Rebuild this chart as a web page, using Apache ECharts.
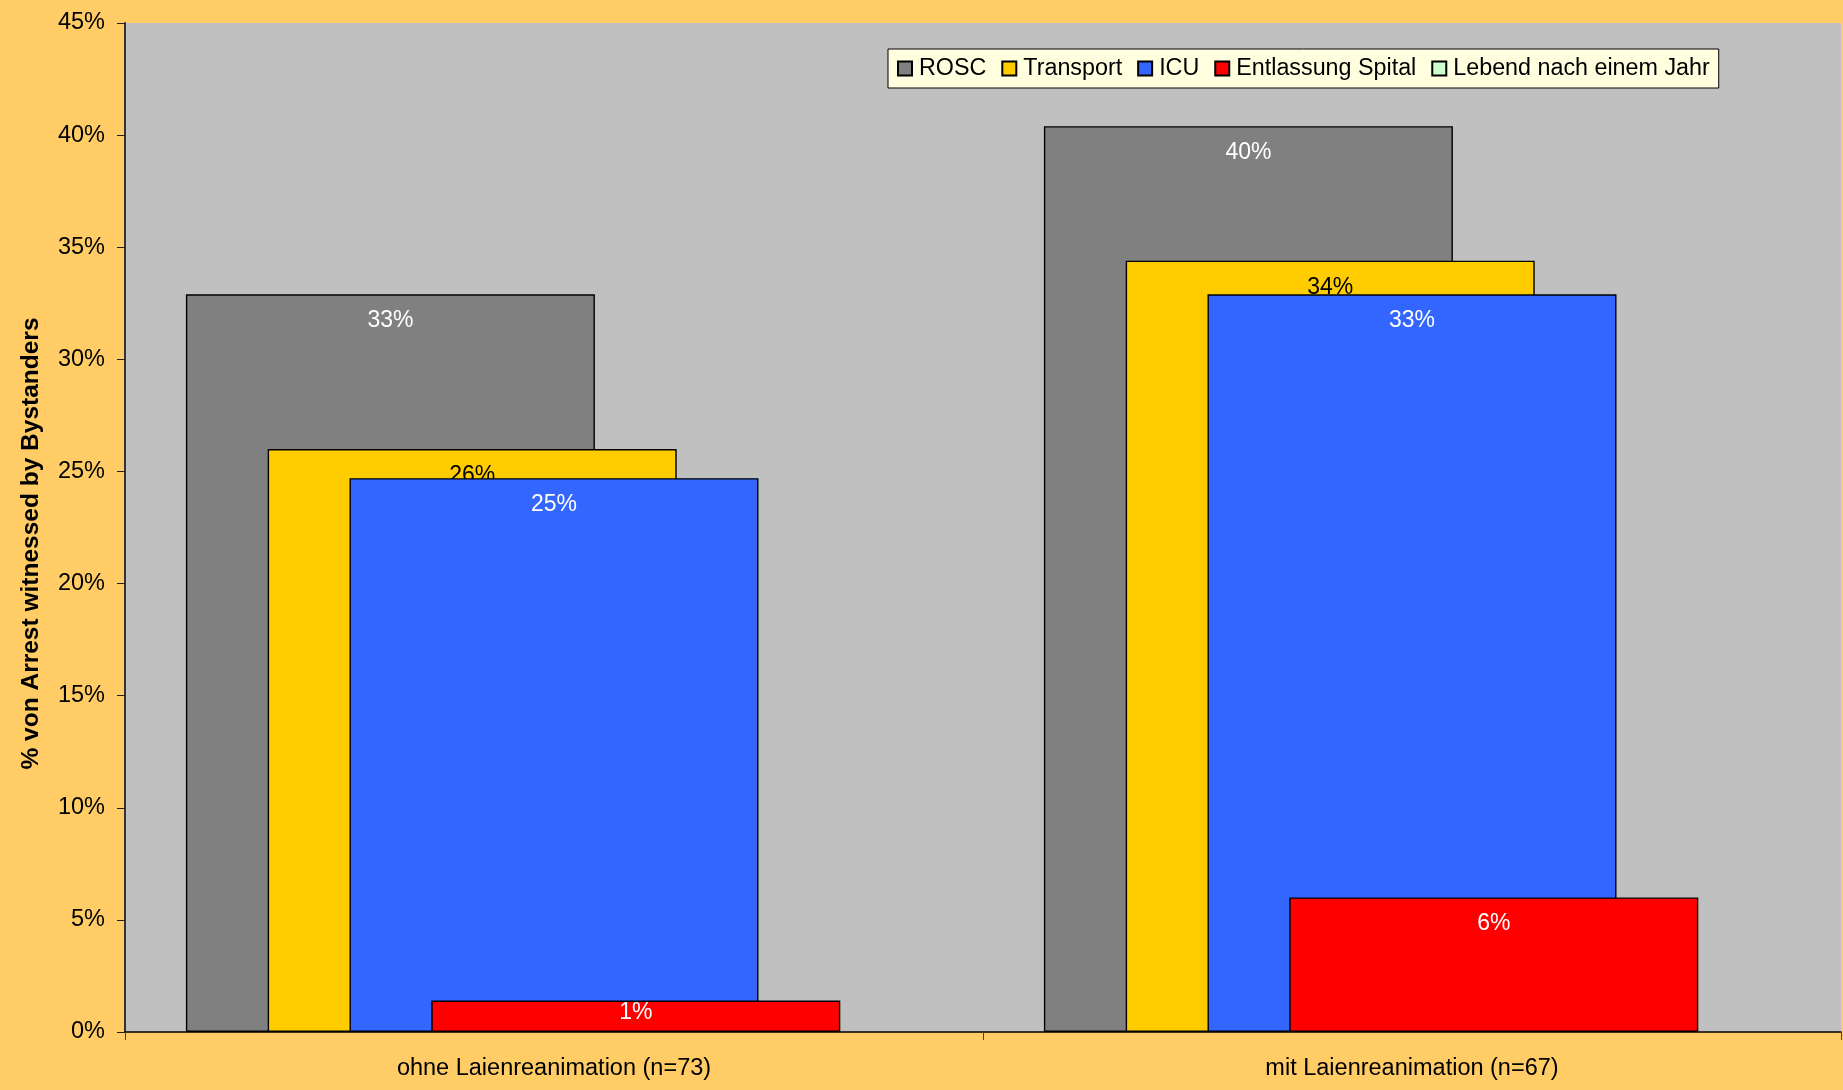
<!DOCTYPE html>
<html>
<head>
<meta charset="utf-8">
<script src="https://cdn.jsdelivr.net/npm/echarts@6/dist/echarts.min.js"></script>
<style>
  html, body { margin: 0; padding: 0; background: #FFCC66; }
  #main { width: 1843px; height: 1090px; }
</style>
</head>
<body>
<div id="main"></div>
<script>
  // categories and values (percent of arrests witnessed by bystanders)
  var categories = ['ohne Laienreanimation (n=73)', 'mit Laienreanimation (n=67)'];
  var rosc = [32.9, 40.4];
  var transport = [26.0, 34.4];
  var icu = [24.7, 32.9];
  var entlassung = [1.4, 6.0];
  var lebend = [null, null];

  var seriesNames = ['ROSC', 'Transport', 'ICU', 'Entlassung Spital', 'Lebend nach einem Jahr'];
  var seriesData = [rosc, transport, icu, entlassung, lebend];
  var colors = ['#808080', '#FFCC00', '#3366FF', '#FF0000', '#CCFFCC'];
  var labelColors = ['#FFFFFF', '#000000', '#FFFFFF', '#FFFFFF', '#000000'];

  var font = '"Liberation Sans", Arial, sans-serif';

  var chart = echarts.init(document.getElementById('main'));

  var series = [];
  for (var i = 0; i < seriesNames.length; i++) {
    // short bars: label sits closer to the top edge (as excel clamps it)
    var data = seriesData[i].map(function (v) {
      if (v != null && v < 3) return { value: v, label: { distance: 1 } };
      return v;
    });
    series.push({
      name: seriesNames[i],
      type: 'bar',
      data: data,
      z: 2 + i,
      barWidth: 409,
      barGap: '-80%',
      itemStyle: {
        color: colors[i],
        borderColor: '#000000',
        borderWidth: 1.4
      },
      label: {
        show: true,
        position: 'insideTop',
        distance: 15,
        color: labelColors[i],
        fontFamily: font,
        fontSize: 23,
        formatter: function (p) {
          return p.value == null ? '' : Math.round(p.value) + '%';
        }
      }
    });
  }

  var option = {
    backgroundColor: '#FFCC66',
    animation: false,
    grid: {
      left: 125,
      right: 2,
      top: 23,
      bottom: 58,
      show: true,
      backgroundColor: '#C0C0C0',
      borderWidth: 0
    },
    legend: {
      left: 888,
      top: 49,
      data: seriesNames,
      icon: 'rect',
      itemWidth: 14,
      itemHeight: 14,
      itemGap: 15,
      padding: [8, 9, 8, 9],
      backgroundColor: '#FFFFE0',
      borderColor: '#000000',
      borderWidth: 1,
      textStyle: {
        fontFamily: font,
        fontSize: 23.3,
        lineHeight: 23,
        color: '#000000',
        padding: [0, 0, 0, 2]
      }
    },
    xAxis: {
      type: 'category',
      data: categories,
      axisLine: { lineStyle: { color: '#000000', width: 1.5 } },
      axisTick: { show: true, length: 8, lineStyle: { color: '#444444' } },
      axisLabel: {
        margin: 25,
        color: '#000000',
        fontFamily: font,
        fontSize: 23.5
      },
      splitLine: { show: false }
    },
    yAxis: {
      type: 'value',
      min: 0,
      max: 45,
      interval: 5,
      name: '% von Arrest witnessed by Bystanders',
      nameLocation: 'middle',
      nameGap: 81,
      nameTextStyle: {
        fontFamily: font,
        fontSize: 24.5,
        fontWeight: 'bold',
        color: '#000000',
        padding: [0, 32, 0, 0]
      },
      axisLine: { show: true, lineStyle: { color: '#333333', width: 2 } },
      axisTick: { show: true, length: 8, lineStyle: { color: '#222222' } },
      axisLabel: {
        margin: 20,
        color: '#000000',
        fontFamily: font,
        fontSize: 23.5,
        formatter: '{value}%'
      },
      splitLine: { show: false }
    },
    series: series
  };

  chart.setOption(option);
</script>
</body>
</html>
